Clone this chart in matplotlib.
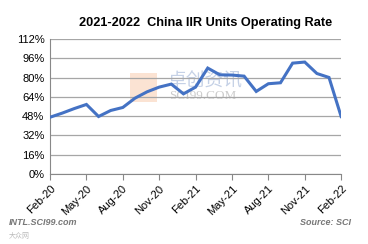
import matplotlib.pyplot as plt
from matplotlib.patches import Rectangle
import numpy as np

# monthly operating rate, Feb-20 .. Feb-22 (%)
months = ["Feb-20", "Mar-20", "Apr-20", "May-20", "Jun-20", "Jul-20", "Aug-20",
          "Sep-20", "Oct-20", "Nov-20", "Dec-20", "Jan-21", "Feb-21", "Mar-21",
          "Apr-21", "May-21", "Jun-21", "Jul-21", "Aug-21", "Sep-21", "Oct-21",
          "Nov-21", "Dec-21", "Jan-22", "Feb-22"]
rate = [47.1, 50.5, 54.3, 57.7, 47.7, 52.7, 55.2, 62.9, 68.2, 72.1, 74.6,
        66.5, 72.1, 87.9, 82.3, 82.1, 81.2, 68.5, 74.9, 75.7, 92.0, 92.9,
        83.4, 80.1, 47.7]
yticks = [0, 16, 32, 48, 64, 80, 96, 112]

plt.rcParams['font.family'] = ['Liberation Sans', 'Noto Sans CJK SC', 'DejaVu Sans']

fig = plt.figure(figsize=(3.68, 2.44), dpi=100)
ax = fig.add_axes([0.136, 0.287, 0.791, 0.553])
ax.patch.set_alpha(0)

x = np.arange(len(months))
ax.plot(x, rate, color="#4472C4", linewidth=2.2, solid_joinstyle="miter", zorder=3)

ax.set_xlim(0, len(months) - 1)
ax.set_ylim(0, 112)
ax.set_yticks(yticks)
ax.set_yticklabels([f"{v}%" for v in yticks], fontsize=8)
ax.set_xticks(x[::3])
ax.set_xticklabels(months[::3], rotation=45, ha="right", rotation_mode="anchor", fontsize=8)
ax.tick_params(axis="y", length=0, pad=4)
ax.tick_params(axis="x", length=4, color="#888888", direction="out", pad=3)
ax.grid(axis="y", color="#a6a6a6", linewidth=0.9)
ax.set_axisbelow(True)
for s in ["top", "right"]:
    ax.spines[s].set_visible(False)
ax.spines["left"].set_color("#888888")
ax.spines["bottom"].set_color("#888888")

# watermark behind the plot: logo block + text
fig.patches.append(Rectangle((130 / 368, 1 - 102 / 244), 27 / 368, 29 / 244,
                             transform=fig.transFigure, facecolor="#f4b183",
                             alpha=0.35, edgecolor="none", zorder=-1))
fig.text(0.557, 0.664, "卓创资讯", fontsize=13.5, color="#9fb3d6", alpha=0.6,
         ha="center", va="center", zorder=-1)
fig.text(0.552, 0.607, "SCI99.COM", fontsize=9.5, color="#aaaaaa", alpha=0.6,
         ha="center", va="center", family="Liberation Serif", zorder=-1)

fig.text(0.56, 0.905, "2021-2022  China IIR Units Operating Rate", fontsize=9.2,
         fontweight="bold", ha="center", va="center")
fig.text(0.025, 0.09, "INTL.SCI99.com", fontsize=6.5, color="#777777",
         fontweight="bold", style="italic", va="center")
fig.text(0.955, 0.09, "Source: SCI", fontsize=6.5, color="#777777",
         fontweight="bold", style="italic", ha="right", va="center")
fig.text(0.025, 0.03, "大众网", fontsize=5, color="#bbbbbb", va="center")

fig.savefig("out.png", dpi=100, facecolor="white")
